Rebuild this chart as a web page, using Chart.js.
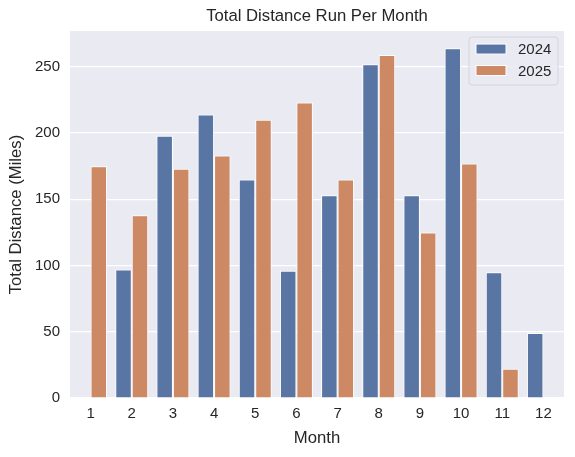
<!DOCTYPE html>
<html>
<head>
<meta charset="utf-8">
<script src="https://cdn.jsdelivr.net/npm/chart.js@4"></script>
<style>
  body { margin: 0; background: #fff; }
  #wrap { width: 575px; height: 457px; }
</style>
</head>
<body>
<div id="wrap"><canvas id="myChart"></canvas></div>
<script>
const months = ["1", "2", "3", "4", "5", "6", "7", "8", "9", "10", "11", "12"];
const dist2024 = [null, 97, 198, 214, 165, 96, 153, 252, 153, 264, 95, 49];
const dist2025 = [175, 138, 173, 183, 210, 223, 165, 259, 125, 177, 22, null];
const yTicks = [0, 50, 100, 150, 200, 250];

const textColor = "#262626";
const font = "'Liberation Sans', Arial, sans-serif";

// grey panel behind the bars, like seaborn darkgrid
const panelBg = {
  id: "panelBg",
  beforeDraw(chart) {
    const { ctx, chartArea: a } = chart;
    ctx.save();
    ctx.fillStyle = "#EAEAF2";
    ctx.fillRect(a.left, a.top, a.right - a.left, a.bottom - a.top);
    ctx.restore();
  },
};

// legend box inside the plot, top right
const innerLegend = {
  id: "innerLegend",
  afterDraw(chart) {
    const { ctx, chartArea: a } = chart;
    const w = 89, h = 48;
    const x = a.right - 6 - w, y = a.top + 6;
    ctx.save();
    ctx.beginPath();
    ctx.roundRect(x, y, w, h, 3);
    ctx.fillStyle = "rgba(234,234,242,0.8)";
    ctx.fill();
    ctx.strokeStyle = "#D5D5DC";
    ctx.lineWidth = 1;
    ctx.stroke();
    ctx.font = "15px " + font;
    ctx.textBaseline = "middle";
    chart.data.datasets.forEach((ds, i) => {
      const cy = y + 12 + i * 21.5;
      ctx.fillStyle = ds.backgroundColor;
      ctx.fillRect(x + 7, cy - 5, 30, 10);
      ctx.strokeStyle = "#fff";
      ctx.strokeRect(x + 7, cy - 5, 30, 10);
      ctx.fillStyle = textColor;
      ctx.fillText(ds.label, x + 49, cy + 1);
    });
    ctx.restore();
  },
};

const data = {
  labels: months,
  datasets: [
    {
      label: "2024",
      data: dist2024,
      backgroundColor: "#5975A4",
      borderColor: "#ffffff",
      borderWidth: 1,
      categoryPercentage: 0.8,
      barPercentage: 1.0,
    },
    {
      label: "2025",
      data: dist2025,
      backgroundColor: "#CC8963",
      borderColor: "#ffffff",
      borderWidth: 1,
      categoryPercentage: 0.8,
      barPercentage: 1.0,
    },
  ],
};

const config = {
  type: "bar",
  data: data,
  plugins: [panelBg, innerLegend],
  options: {
    responsive: true,
    maintainAspectRatio: false,
    animation: false,
    layout: {
      padding: { left: 0, right: 11, top: 0, bottom: 0 },
    },
    plugins: {
      legend: { display: false },
      tooltip: { enabled: false },
      title: {
        display: true,
        fullSize: false,
        text: "Total Distance Run Per Month",
        color: textColor,
        font: { family: font, size: 16.7, weight: "normal" },
        padding: { top: 6, bottom: 5 },
      },
    },
    scales: {
      x: {
        grid: { display: false, drawTicks: false },
        border: { display: false },
        ticks: {
          color: textColor,
          font: { family: font, size: 15 },
          padding: 7,
        },
        title: {
          display: true,
          text: "Month",
          color: textColor,
          font: { family: font, size: 16.7 },
          padding: { top: 0, bottom: 9 },
        },
        afterFit(scale) {
          scale.height = 59;
        },
      },
      y: {
        min: 0,
        max: 277,
        grid: { color: "#ffffff", lineWidth: 1.2, drawTicks: false },
        border: { display: false },
        ticks: {
          color: textColor,
          font: { family: font, size: 15 },
          padding: 10,
          stepSize: 50,
        },
        afterBuildTicks(scale) {
          scale.ticks = yTicks.map((v) => ({ value: v }));
        },
        title: {
          display: true,
          text: "Total Distance (Miles)",
          color: textColor,
          font: { family: font, size: 16.7 },
          padding: { top: 6, bottom: 0 },
        },
        afterFit(scale) {
          scale.width = 70;
        },
      },
    },
  },
};

const myChart = new Chart(document.getElementById("myChart"), config);
</script>
</body>
</html>
